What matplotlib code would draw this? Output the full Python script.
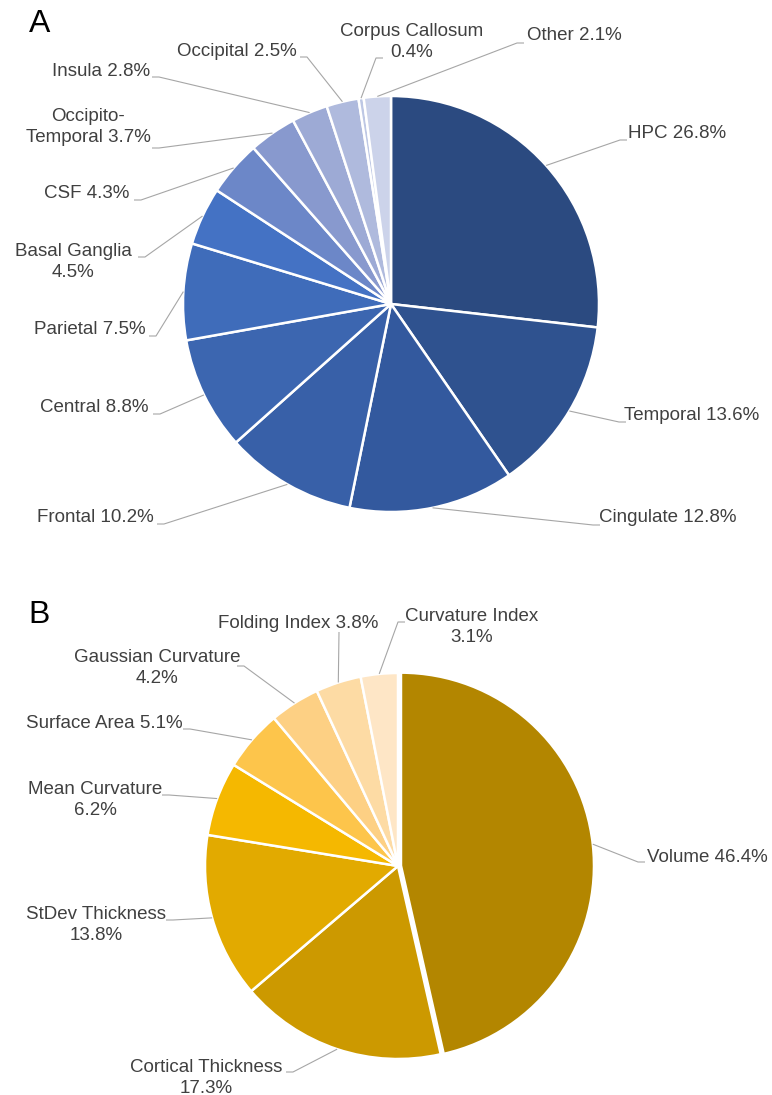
import numpy as np
import matplotlib
matplotlib.use("Agg")
import matplotlib.pyplot as plt

plt.rcParams['font.family'] = ['Liberation Sans', 'DejaVu Sans']

# ---------------- data ----------------
regions = ["HPC", "Temporal", "Cingulate", "Frontal", "Central", "Parietal",
           "Basal Ganglia", "CSF", "Occipito-\nTemporal", "Insula", "Occipital",
           "Corpus Callosum", "Other"]
region_pct = [26.8, 13.6, 12.8, 10.2, 8.8, 7.5, 4.5, 4.3, 3.7, 2.8, 2.5, 0.4, 2.1]

features = ["Volume", "Cortical Thickness", "StDev Thickness", "Mean Curvature",
            "Surface Area", "Gaussian Curvature", "Folding Index", "Curvature Index"]
feature_pct = [46.4, 17.3, 13.8, 6.2, 5.1, 4.2, 3.8, 3.1]

# ---------------- styles ----------------
region_colors = ["#2B4A80", "#2F528F", "#33599E", "#3860A8", "#3C66B0", "#3F6CBA",
                 "#4472C4", "#6C87C8", "#8899CE", "#9DAAD5", "#AFBADD", "#BDC7E4",
                 "#CCD3EA"]
feature_colors = ["#B38600", "#CC9900", "#E2AA00", "#F5B800", "#FDC54B", "#FDD084",
                  "#FDDBA4", "#FEE6C6"]

# label layout in pixel coords: text centre, leader end, stub side, separator
region_layout = [
    (677, 133, 627, 140, 1, " "),
    (692, 415, 626, 422, 1, " "),
    (668, 518, 600, 525, 1, " "),
    (95, 517, 157, 524, -1, " "),
    (94, 407, 153, 414, -1, " "),
    (90, 330, 149, 336, -1, " "),
    (73, 262, 138, 257, -1, "\n"),
    (87, 193, 134, 200, -1, " "),
    (88, 127, 152, 148, -1, " "),
    (101, 71, 152, 77, -1, " "),
    (237, 51, 300, 57, -1, " "),
    (412, 42, 383, 58, 1, "\n"),
    (574, 36, 524, 43, 1, " "),
]
feature_layout = [
    (707, 857, 645, 862, 1, " "),
    (206, 1078, 286, 1072, -1, "\n"),
    (96, 925, 166, 920, -1, "\n"),
    (95, 800, 162, 795, -1, "\n"),
    (104, 723, 183, 729, -1, " "),
    (157, 668, 237, 666, -1, "\n"),
    (298, 623, 339, 632, 0, " "),
    (472, 627, 405, 622, 1, "\n"),
]

W, H = 772, 1095
fig = plt.figure(figsize=(W / 100, H / 100), dpi=100)
ax = fig.add_axes([0, 0, 1, 1])

TXT = "#404040"
LINE = "#A6A6A6"


def draw_pie(values, names, colors, layout, center, radius, explode=None):
    wedges, _ = ax.pie(values, colors=colors, center=center, radius=radius,
                       startangle=-90, counterclock=True, explode=explode,
                       wedgeprops=dict(edgecolor="white", linewidth=1.8))
    for w, name, val, (tx, ty, lx, ly, side, sep) in zip(wedges, names, values, layout):
        mid = np.deg2rad((w.theta1 + w.theta2) / 2)
        cx, cy = w.center
        ex, ey = cx + w.r * np.cos(mid), cy + w.r * np.sin(mid)
        stub = 7 if side else 0
        ax.plot([ex, lx - side * stub, lx], [ey, ly, ly], color=LINE, lw=0.8,
                solid_capstyle="butt")
        ax.text(tx, ty, f"{name}{sep}{val}%", ha="center", va="center",
                multialignment="center", fontsize=13.5, color=TXT, linespacing=1.32)


draw_pie(region_pct, regions, region_colors, region_layout, (391, 304), 208)
draw_pie(feature_pct, features, feature_colors, feature_layout, (398, 866), 193,
         explode=[3] + [0] * (len(feature_pct) - 1))

ax.text(29, 24, "A", fontsize=23, color="black", va="center", ha="left")
ax.text(28, 615, "B", fontsize=23, color="black", va="center", ha="left")

ax.set_xlim(0, W)
ax.set_ylim(H, 0)
ax.set_aspect("auto")
ax.axis("off")

fig.savefig("out.png", dpi=100)
